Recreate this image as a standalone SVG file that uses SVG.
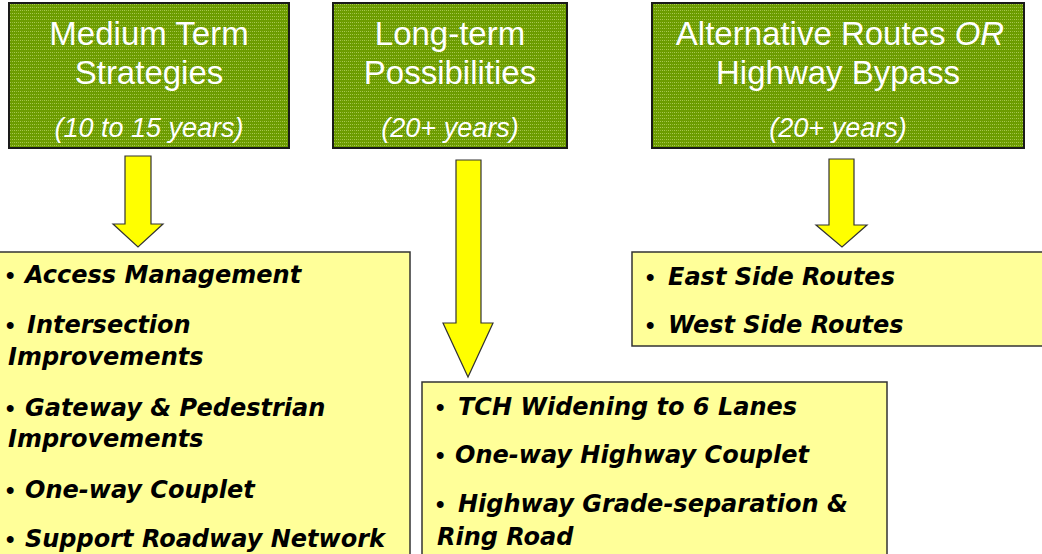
<svg xmlns="http://www.w3.org/2000/svg" width="1042" height="554" viewBox="0 0 1042 554">
<defs>
<pattern id="tex" width="6" height="6" patternUnits="userSpaceOnUse">
<rect width="6" height="6" fill="#6c9c00"/>
<rect x="0" y="1" width="1" height="1" fill="#a8c850"/>
<rect x="2" y="1" width="1" height="1" fill="#a8c850"/>
<rect x="4" y="1" width="1" height="1" fill="#93b838"/>
<rect x="0" y="4" width="1" height="1" fill="#93b838"/>
<rect x="2" y="4" width="1" height="1" fill="#a8c850"/>
<rect x="4" y="4" width="1" height="1" fill="#a8c850"/>
</pattern>
<style>
.green{fill:url(#tex);stroke:#1a1a1a;stroke-width:2}
.title{font-family:"Liberation Sans",Arial,sans-serif;font-size:33px;fill:#ffffff;text-anchor:middle}
.years{font-family:"Liberation Sans",Arial,sans-serif;font-size:27px;font-style:italic;fill:#ffffff;text-anchor:middle}
.yellow{fill:#ffff99;stroke:#333333;stroke-width:1.5}
.arrow{fill:#ffff00;stroke:#333333;stroke-width:1.2;stroke-linejoin:miter}
.item{font-family:"DejaVu Sans",Verdana,sans-serif;font-size:24px;font-weight:bold;font-style:italic;fill:#000000}
.bul{font-family:"Liberation Sans",Arial,sans-serif;font-size:24px;font-weight:bold;fill:#000000}
</style>
</defs>

<g id="medium">
<rect class="green" x="9" y="3" width="280" height="145"/>
<text class="title" x="149" y="45">Medium Term</text>
<text class="title" x="149" y="84">Strategies</text>
<text class="years" x="149" y="137">(10 to 15 years)</text>
</g>

<g id="longterm">
<rect class="green" x="333" y="3" width="234" height="145"/>
<text class="title" x="450" y="45">Long-term</text>
<text class="title" x="450" y="84">Possibilities</text>
<text class="years" x="450" y="137">(20+ years)</text>
</g>

<g id="alternative">
<rect class="green" x="652" y="3" width="372" height="145"/>
<text class="title" x="840" y="45">Alternative Routes <tspan font-style="italic">OR</tspan></text>
<text class="title" x="838" y="84">Highway Bypass</text>
<text class="years" x="838" y="137">(20+ years)</text>
</g>

<g id="connectors">
<polygon class="arrow" points="125,156 151,156 151,224 163,224 138,247 113,224 125,224"/>
<polygon class="arrow" points="456,160 481,160 481,323 493,323 468,377 443,323 456,323"/>
<polygon class="arrow" points="829,159 854,159 854,225 867,225 842,247 816,225 829,225"/>
</g>

<g id="medium-items">
<rect class="yellow" x="-2" y="252" width="412" height="310"/>
<text class="bul" x="6" y="283">•</text><text class="item" x="25" y="283">Access Management</text>
<text class="bul" x="6" y="333">•</text><text class="item" x="27" y="333">Intersection</text>
<text class="item" x="8" y="365">Improvements</text>
<text class="bul" x="6" y="416">•</text><text class="item" x="25" y="416">Gateway &amp; Pedestrian</text>
<text class="item" x="8" y="447">Improvements</text>
<text class="bul" x="6" y="498">•</text><text class="item" x="25" y="498">One-way Couplet</text>
<text class="bul" x="6" y="547">•</text><text class="item" x="25" y="547">Support Roadway Network</text>
</g>

<g id="long-items">
<rect class="yellow" x="422" y="382" width="465" height="180"/>
<text class="bul" x="436" y="415">•</text><text class="item" x="458" y="415">TCH Widening to 6 Lanes</text>
<text class="bul" x="436" y="463">•</text><text class="item" x="455" y="463">One-way Highway Couplet</text>
<text class="bul" x="436" y="512">•</text><text class="item" x="458" y="512">Highway Grade-separation &amp;</text>
<text class="item" x="437" y="545">Ring Road</text>
</g>

<g id="alt-items">
<rect class="yellow" x="632" y="252" width="420" height="94"/>
<text class="bul" x="646" y="285">•</text><text class="item" x="668" y="285">East Side Routes</text>
<text class="bul" x="646" y="333">•</text><text class="item" x="668" y="333">West Side Routes</text>
</g>
</svg>
